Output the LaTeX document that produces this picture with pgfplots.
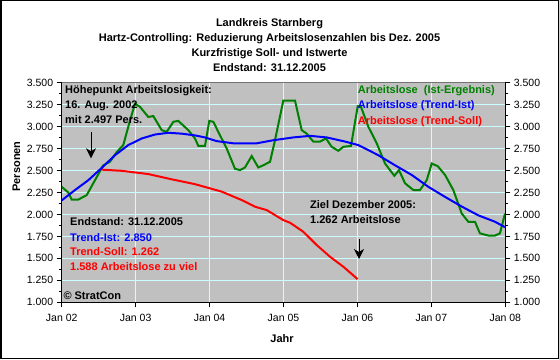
\documentclass[border=0pt]{standalone}
\usepackage{pgfplots}
\pgfplotsset{compat=1.18}
\usepackage{fontspec}
\setmainfont{Liberation Sans}
\usetikzlibrary{arrows.meta}
\definecolor{bg}{RGB}{192,192,192}
\definecolor{gridc}{RGB}{204,255,255}
\definecolor{xlgreen}{RGB}{0,128,0}
\definecolor{xlblue}{RGB}{0,0,255}
\definecolor{xlred}{RGB}{255,0,0}
\newcommand{\af}{\fontsize{11}{13}\selectfont\bfseries}
\newcommand{\tf}{\fontsize{10.5}{12}\selectfont}
\begin{document}
\begin{tikzpicture}
\path[use as bounding box] (0pt,0pt) rectangle (559pt,359pt);
\draw[line width=1.5pt] (0.75pt,0.75pt) rectangle (558.25pt,358.25pt);
\begin{axis}[
  at={(61.7pt,56.7pt)}, anchor=south west,
  scale only axis, width=443.6pt, height=219.6pt,
  xmin=2002, xmax=2008, ymin=1000, ymax=3500,
  axis x line*=bottom, axis y line*=left,
  axis line style={black, line width=0.8pt},
  axis background/.style={fill=bg},
  xtick={2002,2003,2004,2005,2006,2007,2008},
  xticklabels={Jan 02,Jan 03,Jan 04,Jan 05,Jan 06,Jan 07,Jan 08},
  ytick={1000,1250,1500,1750,2000,2250,2500,2750,3000,3250,3500},
  yticklabels={1.000,1.250,1.500,1.750,2.000,2.250,2.500,2.750,3.000,3.250,3.500},
  minor y tick num=1,
  tick align=outside,
  major tick length=5pt, minor tick length=3pt,
  tick style={black, line width=0.8pt},
  ticklabel style={font=\tf},
  xticklabel style={yshift=-3pt},
  grid=major,
  major grid style={gridc, line width=0.9pt},
  clip=true,
]
\addplot[xlgreen, line width=2pt] coordinates {
(2002.000,2315) (2002.089,2250) (2002.135,2170) (2002.225,2170) (2002.338,2220)
(2002.450,2390) (2002.563,2560) (2002.653,2600) (2002.744,2710) (2002.833,2790)
(2002.924,3070) (2002.991,3260) (2003.059,3225) (2003.171,3110) (2003.239,3120)
(2003.353,2960) (2003.420,2940) (2003.510,3055) (2003.577,3065) (2003.712,2960)
(2003.803,2865) (2003.848,2780) (2003.938,2780) (2003.996,3065) (2004.051,3055)
(2004.118,2940) (2004.232,2750) (2004.344,2520) (2004.412,2505) (2004.479,2535)
(2004.570,2665) (2004.659,2535) (2004.727,2560) (2004.818,2600) (2004.885,2845)
(2004.997,3295) (2005.156,3295) (2005.246,2960) (2005.314,2920) (2005.403,2830)
(2005.494,2830) (2005.575,2865) (2005.652,2770) (2005.741,2725) (2005.809,2770)
(2005.913,2780) (2006.004,3233) (2006.048,3225) (2006.147,3000) (2006.261,2810)
(2006.373,2580) (2006.499,2440) (2006.562,2505) (2006.644,2355) (2006.756,2278)
(2006.846,2278) (2006.937,2390) (2007.005,2580) (2007.086,2550) (2007.185,2450)
(2007.297,2278) (2007.411,2010) (2007.500,1917) (2007.590,1917) (2007.657,1785)
(2007.770,1760) (2007.861,1760) (2007.928,1785) (2007.996,2010)
};
\addplot[xlred, line width=2pt] coordinates {
(2002.541,2510) (2002.812,2497) (2003.171,2460) (2003.488,2400) (2003.803,2345)
(2004.164,2260) (2004.435,2164) (2004.615,2088) (2004.773,2050) (2004.997,1936)
(2005.088,1906) (2005.268,1803) (2005.449,1652) (2005.629,1519) (2005.809,1405)
(2005.990,1273) (2006.000,1262)
};
\addplot[xlblue, line width=2pt] coordinates {
(2002.000,2160) (2002.180,2278) (2002.360,2390) (2002.541,2530) (2002.721,2675)
(2002.901,2790) (2003.082,2865) (2003.262,2910) (2003.442,2930) (2003.623,2920)
(2003.803,2900) (2003.938,2877) (2004.097,2835) (2004.321,2810) (2004.638,2810)
(2004.862,2845) (2005.133,2877) (2005.359,2895) (2005.584,2877) (2005.832,2830)
(2006.012,2790) (2006.282,2675) (2006.508,2560) (2006.734,2450) (2006.959,2315)
(2007.185,2200) (2007.411,2090) (2007.635,1990) (2007.861,1917) (2007.996,1855)
};
\draw[black!55, line width=1pt] (rel axis cs:0,1) -- (rel axis cs:1,1);
\end{axis}
\begin{axis}[
  at={(61.7pt,56.7pt)}, anchor=south west,
  scale only axis, width=443.6pt, height=219.6pt,
  xmin=2002, xmax=2008, ymin=1000, ymax=3500,
  axis x line=none, axis y line*=right,
  axis line style={black, line width=0.8pt},
  ytick={1000,1250,1500,1750,2000,2250,2500,2750,3000,3250,3500},
  yticklabels={1.000,1.250,1.500,1.750,2.000,2.250,2.500,2.750,3.000,3.250,3.500},
  minor y tick num=1,
  tick align=outside,
  major tick length=5pt, minor tick length=3pt,
  tick style={black, line width=0.8pt},
  ticklabel style={font=\tf},
]
\end{axis}
% titles
\node[anchor=base, font=\af] at (269.5pt,332.3pt) {Landkreis Starnberg};
\node[anchor=base, font=\af] at (269.5pt,317.3pt) {Hartz-Controlling: Reduzierung Arbeitslosenzahlen bis Dez. 2005};
\node[anchor=base, font=\af] at (269.5pt,302.3pt) {Kurzfristige Soll- und Istwerte};
\node[anchor=base, font=\af] at (269.5pt,287.7pt) {Endstand: 31.12.2005};
% axis labels
\node[anchor=base, font=\af, rotate=90] at (20pt,192.5pt) {Personen};
\node[anchor=base, font=\af] at (282pt,16.3pt) {Jahr};
% annotations
\node[anchor=base west, font=\af, inner sep=0pt] at (65pt,265.7pt) {Höhepunkt Arbeitslosigkeit:};
\node[anchor=base west, font=\af, inner sep=0pt] at (65pt,250.5pt) {16. Aug. 2002};
\node[anchor=base west, font=\af, inner sep=0pt] at (65pt,235.3pt) {mit 2.497 Pers.};
\node[anchor=base west, font=\af, inner sep=0pt] at (70pt,133.3pt) {Endstand: 31.12.2005};
\node[anchor=base west, font=\af, inner sep=0pt, text=xlblue] at (70pt,118pt) {Trend-Ist: 2.850};
\node[anchor=base west, font=\af, inner sep=0pt, text=xlred] at (70pt,103.3pt) {Trend-Soll: 1.262};
\node[anchor=base west, font=\af, inner sep=0pt, text=xlred] at (70pt,88.3pt) {1.588 Arbeitslose zu viel};
\node[anchor=base west, font=\af, inner sep=0pt] at (63.3pt,60pt) {© StratCon};
\node[anchor=base west, font=\af, inner sep=0pt] at (310pt,150.7pt) {Ziel Dezember 2005:};
\node[anchor=base west, font=\af, inner sep=0pt] at (310pt,135.7pt) {1.262 Arbeitslose};
\node[anchor=base west, font=\af, inner sep=0pt, text=xlgreen] at (357.7pt,265pt) {Arbeitslose\ \ (Ist-Ergebnis)};
\node[anchor=base west, font=\af, inner sep=0pt, text=xlblue] at (357.7pt,250pt) {Arbeitslose (Trend-Ist)};
\node[anchor=base west, font=\af, inner sep=0pt, text=xlred] at (357.7pt,234.7pt) {Arbeitslose (Trend-Soll)};
% arrows
\draw[line width=1pt, -{Stealth[length=10pt,width=10pt,inset=3pt]}] (91pt,227.3pt) -- (91pt,200.7pt);
\draw[line width=1pt, -{Stealth[length=10pt,width=10pt,inset=3pt]}] (359pt,119.7pt) -- (359pt,100pt);
\end{tikzpicture}
\end{document}
